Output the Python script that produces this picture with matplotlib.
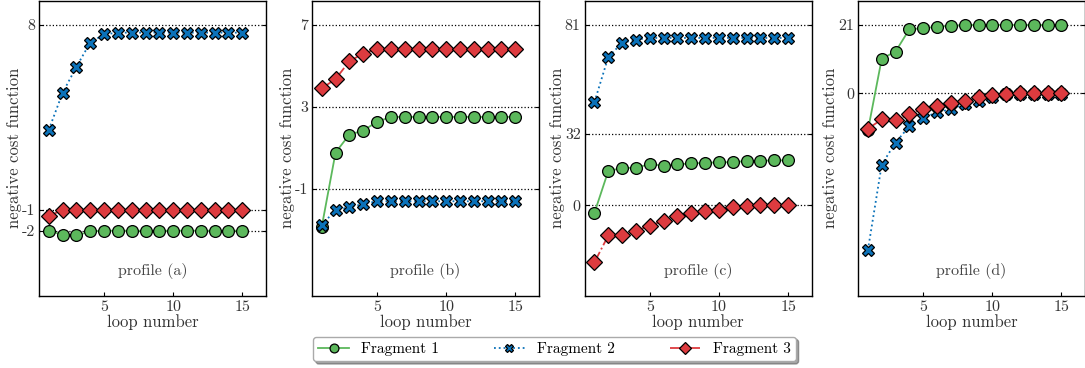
import matplotlib
matplotlib.use("Agg")
import matplotlib.pyplot as plt

plt.rcParams['font.family'] = 'serif'
plt.rcParams['font.serif'] = ['cmr10', 'DejaVu Serif']
plt.rcParams['mathtext.fontset'] = 'cm'
plt.rcParams['axes.unicode_minus'] = False
plt.rcParams['font.size'] = 11

loops = list(range(1, 16))

# profile (a)
frag1_a = [-2.0, -2.19, -2.23, -2.03, -2.0, -2.0, -2.0, -2.0, -2.0, -2.0, -2.0, -2.0, -2.0, -2.0, -2.0]
frag2_a = [2.89, 4.69, 5.95, 7.13, 7.53, 7.61, 7.61, 7.61, 7.61, 7.61, 7.61, 7.61, 7.61, 7.61, 7.61]
frag3_a = [-1.28, -1.0, -1.0, -1.0, -1.0, -1.0, -1.0, -1.0, -1.0, -1.0, -1.0, -1.0, -1.0, -1.0, -1.0]

# profile (b)
frag1_b = [-2.84, 0.78, 1.65, 1.85, 2.27, 2.51, 2.51, 2.51, 2.51, 2.51, 2.51, 2.51, 2.51, 2.51, 2.51]
frag2_b = [-2.76, -2.0, -1.89, -1.72, -1.59, -1.59, -1.59, -1.59, -1.59, -1.59, -1.59, -1.59, -1.59, -1.59, -1.59]
frag3_b = [3.90, 4.35, 5.22, 5.59, 5.82, 5.82, 5.82, 5.82, 5.82, 5.82, 5.82, 5.82, 5.82, 5.82, 5.82]

# profile (c)
frag1_c = [-3.4, 15.4, 16.6, 16.8, 18.4, 17.7, 18.3, 18.7, 19.0, 19.2, 19.3, 19.8, 19.9, 20.1, 20.1]
frag2_c = [46.3, 66.5, 72.8, 74.3, 75.0, 75.0, 75.0, 75.0, 75.0, 75.0, 75.0, 75.0, 75.0, 75.0, 75.0]
frag3_c = [-25.6, -13.6, -13.6, -11.4, -9.3, -6.9, -4.9, -3.7, -2.8, -2.2, -0.9, -0.3, 0.0, 0.0, 0.0]

# profile (d)
frag1_d = [-11.3, 10.6, 12.8, 19.6, 19.9, 20.4, 20.6, 20.9, 20.9, 20.9, 20.9, 20.9, 20.9, 20.9, 20.9]
frag2_d = [-47.8, -21.7, -15.0, -10.0, -7.4, -5.8, -4.8, -3.3, -2.3, -1.2, -0.2, -0.2, -0.2, -0.2, -0.2]
frag3_d = [-10.8, -7.9, -8.1, -6.4, -4.6, -3.7, -2.8, -2.3, -1.2, -0.4, -0.1, 0.0, 0.0, 0.0, 0.0]

profiles = ['profile (a)', 'profile (b)', 'profile (c)', 'profile (d)']
data = [(frag1_a, frag2_a, frag3_a), (frag1_b, frag2_b, frag3_b),
        (frag1_c, frag2_c, frag3_c), (frag1_d, frag2_d, frag3_d)]
yticks = [[-2, -1, 8], [-1, 3, 7], [0, 32, 81], [0, 21]]
ylims = [(-5.16, 9.16), (-6.19, 8.16), (-40.7, 91.7), (-61.8, 28.3)]

green = '#5cb85c'
blue = '#0b72b9'
red = '#dd3b3f'

fig = plt.figure(figsize=(10.85, 3.68), dpi=100)
lefts = [0.036, 0.2876, 0.539, 0.791]
for i in range(4):
    ax = fig.add_axes([lefts[i], 0.196, 0.209, 0.802])
    f1, f2, f3 = data[i]
    for y in yticks[i]:
        ax.axhline(y, color='black', linestyle=':', linewidth=0.9, zorder=1)
    l1, = ax.plot(loops, f1, color=green, linestyle='-', marker='o', markersize=8.5,
                  markeredgecolor='black', markeredgewidth=0.9, linewidth=1.3, label='Fragment 1', zorder=3)
    l2, = ax.plot(loops, f2, color=blue, linestyle=':', marker='X', markersize=8.5,
                  markeredgecolor='black', markeredgewidth=0.9, linewidth=1.3, label='Fragment 2', zorder=3)
    l3, = ax.plot(loops, f3, color=red, linestyle='-.', marker='D', markersize=8,
                  markeredgecolor='black', markeredgewidth=0.9, linewidth=1.3, label='Fragment 3', zorder=4)
    ax.set_xlim(0.3, 16.7)
    ax.set_ylim(*ylims[i])
    ax.set_xticks([5, 10, 15])
    ax.set_yticks(yticks[i])
    ax.set_yticklabels([str(t) for t in yticks[i]])
    ax.tick_params(direction='in', length=3, width=0.8, right=True, labelsize=11.5, pad=3,
                   labelcolor='#333333')
    ax.set_xlabel('loop number', labelpad=0, fontsize=12, color='#333333')
    ax.set_ylabel('negative cost function', labelpad=0, fontsize=12, color='#333333')
    ax.text(0.5, 0.085, profiles[i], transform=ax.transAxes, ha='center', va='center',
            fontsize=11.5, color='#444444')
    for s in ax.spines.values():
        s.set_linewidth(1.0)

fig.legend(handles=[l1, l2, l3], loc='center', bbox_to_anchor=(0.511, 0.052), ncol=3,
           fancybox=True, shadow=True, fontsize=11, markerscale=0.75,
           columnspacing=3.6, handlelength=2.0, framealpha=1, edgecolor='#aaaaaa',
           borderpad=0.35)

fig.savefig('out.png', dpi=100)
